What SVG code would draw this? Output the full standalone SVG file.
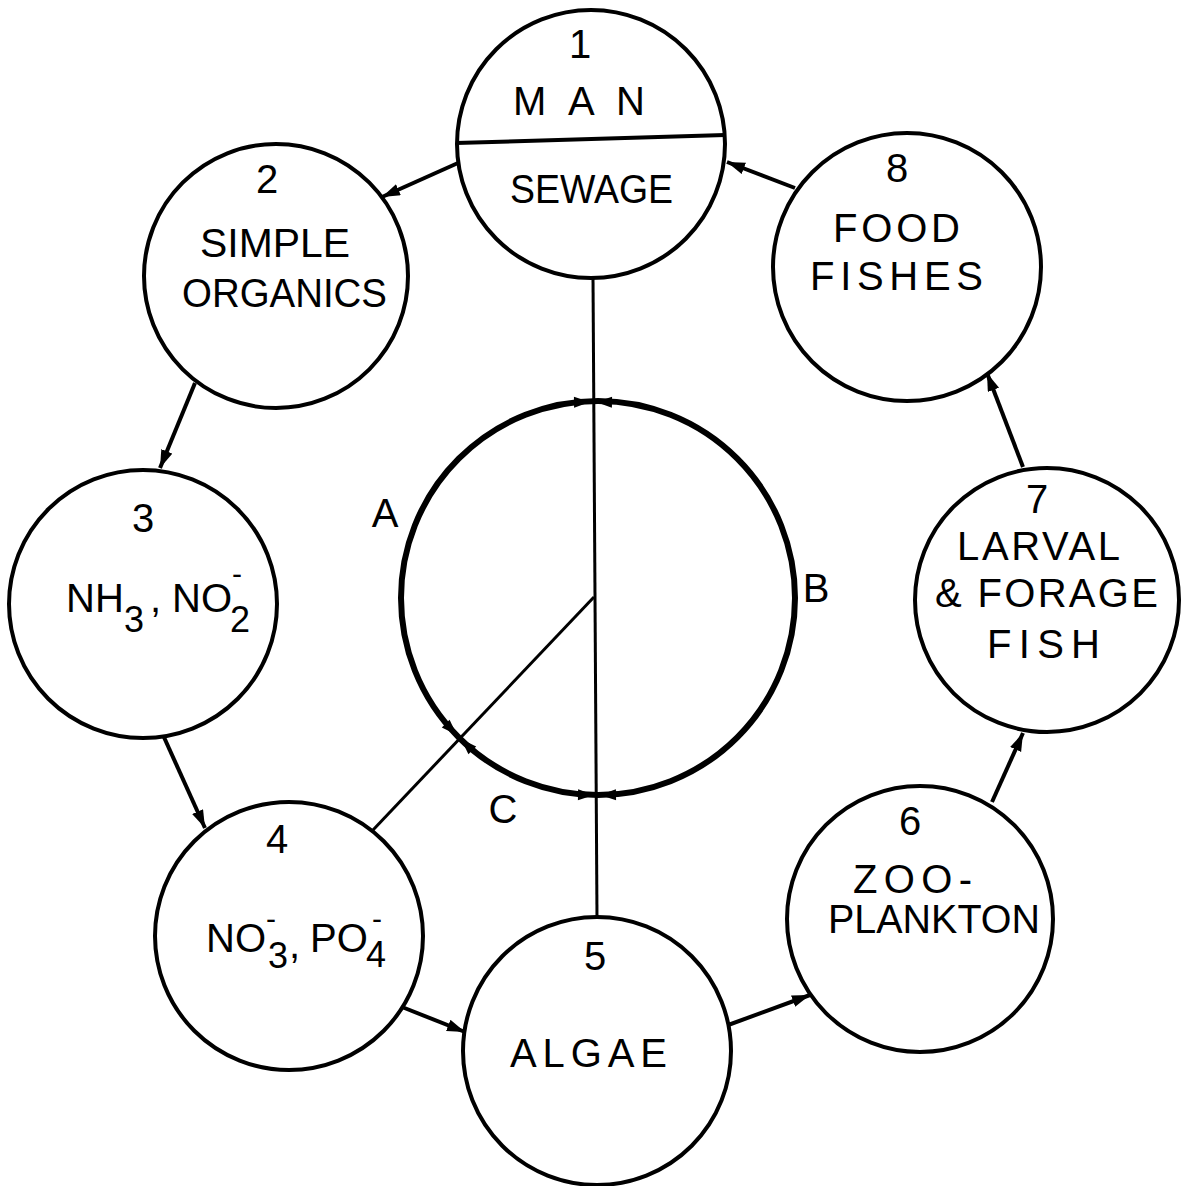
<svg xmlns="http://www.w3.org/2000/svg" width="1181" height="1186" viewBox="0 0 1181 1186">
<style>
  .node { fill: #fff; stroke: #000; stroke-width: 4; }
  .hub { fill: none; stroke: #000; stroke-width: 6; }
  .conn { stroke: #000; stroke-width: 4; fill: none; }
  .inner { stroke: #000; stroke-width: 3; fill: none; }
  text { font-family: "Liberation Sans", Arial, sans-serif; font-size: 40px; fill: #000; text-anchor: middle; }
  .sub { font-size: 36px; }
  .sup { font-size: 30px; }
  .l { text-anchor: start; }
</style>
<defs>
  <marker id="arr" markerUnits="userSpaceOnUse" markerWidth="20" markerHeight="14" refX="18" refY="6" orient="auto">
    <path d="M0,0 L18,6 L0,12 Z" fill="#000"/>
  </marker>
  <path id="ah" d="M0,0 L-16,-5.5 L-16,5.5 Z" fill="#000"/>
</defs>
<rect width="1181" height="1186" fill="#fff"/>

<g id="connectors">
  <line class="conn" x1="458" y1="163" x2="382" y2="197" marker-end="url(#arr)"/>
  <line class="conn" x1="195" y1="383" x2="160" y2="468" marker-end="url(#arr)"/>
  <line class="conn" x1="163" y1="735" x2="205" y2="828" marker-end="url(#arr)"/>
  <line class="conn" x1="402" y1="1007" x2="465" y2="1032" marker-end="url(#arr)"/>
  <line class="conn" x1="720" y1="1028" x2="810" y2="995" marker-end="url(#arr)"/>
  <line class="conn" x1="992" y1="802" x2="1023" y2="733" marker-end="url(#arr)"/>
  <line class="conn" x1="1023" y1="467" x2="987" y2="373" marker-end="url(#arr)"/>
  <line class="conn" x1="795" y1="188" x2="727" y2="162" marker-end="url(#arr)"/>
  <line class="inner" x1="593" y1="277" x2="597" y2="918"/>
  <line class="inner" x1="373" y1="830" x2="594" y2="597"/>
</g>

<g id="hub">
  <circle class="hub" cx="598" cy="598" r="197"/>
  <use href="#ah" transform="translate(590,402) rotate(-1)"/>
  <use href="#ah" transform="translate(596,402) rotate(181)"/>
  <use href="#ah" transform="translate(594,795) rotate(1)"/>
  <use href="#ah" transform="translate(600,795) rotate(179)"/>
  <use href="#ah" transform="translate(457,735) rotate(45)"/>
  <use href="#ah" transform="translate(461,739) rotate(225)"/>
  <text x="385" y="527">A</text>
  <text x="816" y="602">B</text>
  <text x="503" y="823">C</text>
</g>

<g id="node1">
  <circle class="node" cx="591" cy="144" r="134"/>
  <line class="conn" x1="456" y1="143" x2="725" y2="135"/>
  <text x="580" y="58">1</text>
  <text x="513" y="115" class="l" textLength="132" lengthAdjust="spacing">MAN</text>
  <text x="510" y="203" class="l" textLength="163" lengthAdjust="spacingAndGlyphs">SEWAGE</text>
</g>

<g id="node2">
  <circle class="node" cx="276" cy="276" r="132"/>
  <text x="267" y="193">2</text>
  <text x="200" y="257" class="l" textLength="150" lengthAdjust="spacingAndGlyphs">SIMPLE</text>
  <text x="182" y="307" class="l" textLength="205" lengthAdjust="spacingAndGlyphs">ORGANICS</text>
</g>

<g id="node3">
  <circle class="node" cx="143" cy="604" r="134"/>
  <text x="143" y="532">3</text>
  <text x="66" y="612" class="l">NH<tspan x="124" y="632" class="sub">3</tspan><tspan x="150" y="612">,</tspan><tspan x="172" y="612">NO</tspan><tspan x="232" y="584" class="sup">-</tspan><tspan x="230" y="632" class="sub">2</tspan></text>
</g>

<g id="node4">
  <circle class="node" cx="289" cy="936" r="134"/>
  <text x="277" y="853">4</text>
  <text x="206" y="952" class="l">NO<tspan x="266" y="929" class="sup">-</tspan><tspan x="268" y="968" class="sub">3</tspan><tspan x="289" y="958">,</tspan><tspan x="310" y="952">PO</tspan><tspan x="372" y="929" class="sup">-</tspan><tspan x="366" y="967" class="sub">4</tspan></text>
</g>

<g id="node5">
  <circle class="node" cx="597" cy="1051" r="134"/>
  <text x="595" y="970">5</text>
  <text x="510" y="1067" class="l" textLength="157" lengthAdjust="spacing">ALGAE</text>
</g>

<g id="node6">
  <circle class="node" cx="920" cy="919" r="133"/>
  <text x="910" y="835">6</text>
  <text x="853" y="893" class="l" textLength="119" lengthAdjust="spacing">ZOO-</text>
  <text x="828" y="933" class="l" textLength="212" lengthAdjust="spacingAndGlyphs">PLANKTON</text>
</g>

<g id="node7">
  <circle class="node" cx="1047" cy="600" r="132"/>
  <text x="1037" y="513">7</text>
  <text x="957" y="560" class="l" textLength="163" lengthAdjust="spacing">LARVAL</text>
  <text x="935" y="607" class="l" textLength="223" lengthAdjust="spacing">&amp; FORAGE</text>
  <text x="987" y="658" class="l" textLength="113" lengthAdjust="spacing">FISH</text>
</g>

<g id="node8">
  <circle class="node" cx="907" cy="267" r="134"/>
  <text x="897" y="182">8</text>
  <text x="833" y="242" class="l" textLength="127" lengthAdjust="spacing">FOOD</text>
  <text x="810" y="290" class="l" textLength="173" lengthAdjust="spacing">FISHES</text>
</g>
</svg>
